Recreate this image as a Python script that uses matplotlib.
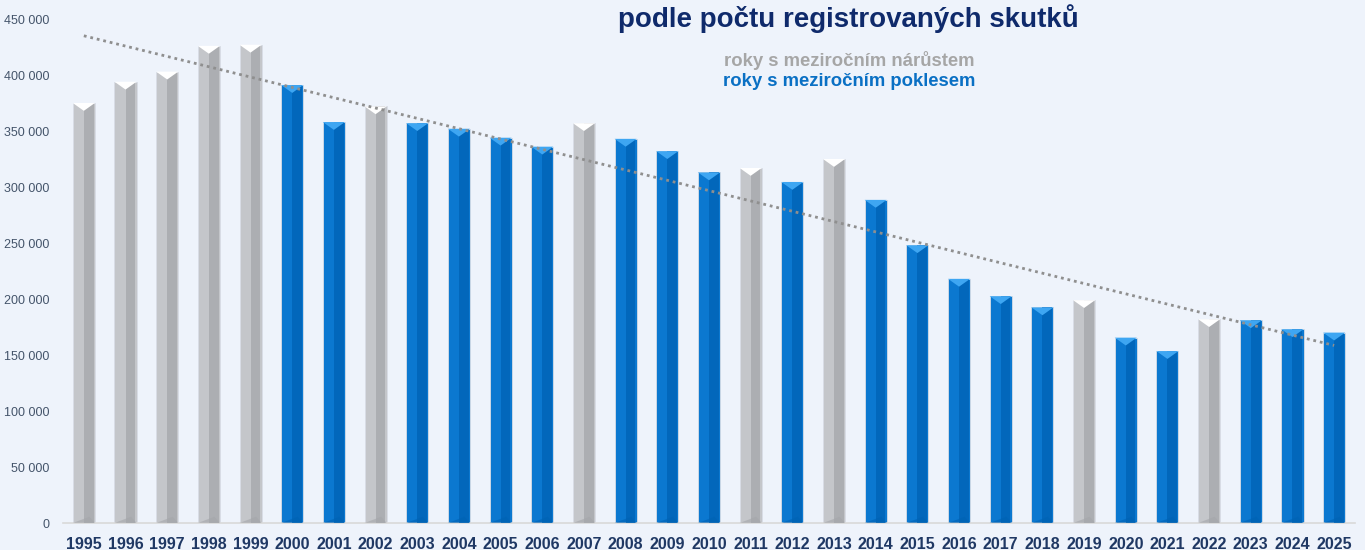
import matplotlib.pyplot as plt
import numpy as np
from matplotlib.ticker import FuncFormatter

plt.rcParams['font.family'] = ['Liberation Sans', 'DejaVu Sans']

# Data
years = [str(y) for y in range(1995, 2026)]
skutky = [375000, 394000, 403000, 426000, 427000, 391000, 358000, 372000,
          357000, 352000, 344000, 336000, 357000, 343000, 332000, 313000,
          317000, 304500, 325000, 288500, 248000, 218000, 202500, 192500,
          199000, 165500, 153500, 182000, 181000, 173000, 170000]
y_ticks = list(range(0, 450001, 50000))

title = 'podle počtu registrovaných skutků'
legend_up = 'roky s meziročním nárůstem'
legend_down = 'roky s meziročním poklesem'

bg = '#eef3fb'
gray_main, gray_dark, gray_top = '#c4c6ca', '#a4a6aa', '#ffffff'
blue_main, blue_dark, blue_top = '#0b78d0', '#0062b4', '#3ea6f2'

fig = plt.figure(figsize=(13.65, 5.5), dpi=100, facecolor=bg)
ax = fig.add_axes([63 / 1365, 1 - 523 / 550, 1292 / 1365, 504 / 550])
ax.set_facecolor(bg)

x = np.arange(len(years))
w = 0.53
bevel = 7000

for i, v in enumerate(skutky):
    up = i == 0 or v > skutky[i - 1]
    main, dark, top = (gray_main, gray_dark, gray_top) if up else (blue_main, blue_dark, blue_top)
    ax.bar(x[i], v, width=w, color=main, edgecolor='#d8dde6', linewidth=0.6, zorder=2)
    # darker right side for cylinder look
    ax.bar(x[i] + w * 0.22, v, width=w * 0.44, color=dark, linewidth=0, zorder=3, alpha=0.75)
    # top bevel
    ax.fill([x[i] - w / 2, x[i] + w / 2, x[i]], [v, v, v - bevel],
            color=top, zorder=4, linewidth=0)
    # bottom bevel
    ax.fill([x[i] - w / 2, x[i] + w / 2, x[i] + w / 4],
            [0, 0, bevel * 0.8], color=dark, zorder=4, linewidth=0, alpha=0.6)

# linear trend
k, q = np.polyfit(x, skutky, 1)
ax.plot(x, k * x + q, color='#8f8f8f', lw=2, linestyle=(0, (1, 1.4)), zorder=5)

ax.set_xlim(-0.5, len(years) - 0.5)
ax.set_ylim(0, 450000)
ax.set_yticks(y_ticks)
ax.yaxis.set_major_formatter(FuncFormatter(lambda v, p: f'{int(v):,}'.replace(',', ' ')))
ax.set_xticks(x)
ax.set_xticklabels(years, fontsize=11.5, fontweight='bold', color='#1f3864')
ax.tick_params(axis='y', length=0, pad=10, labelsize=9, labelcolor='#44546a')
ax.tick_params(axis='x', length=0, pad=10)
for s in ['top', 'right', 'left']:
    ax.spines[s].set_visible(False)
ax.spines['bottom'].set_color('#d9d9d9')
ax.spines['bottom'].set_linewidth(1.2)

fig.text(848 / 1365, 1 - 19 / 550, title, ha='center', va='center',
         fontsize=20, fontweight='bold', color='#0f2a6b')
fig.text(849 / 1365, 1 - 60 / 550, legend_up, ha='center', va='center',
         fontsize=13.3, fontweight='bold', color='#a6a6a6')
fig.text(849 / 1365, 1 - 81 / 550, legend_down, ha='center', va='center',
         fontsize=13.3, fontweight='bold', color='#0a70c4')

fig.savefig('out.png', dpi=100, facecolor=bg)
